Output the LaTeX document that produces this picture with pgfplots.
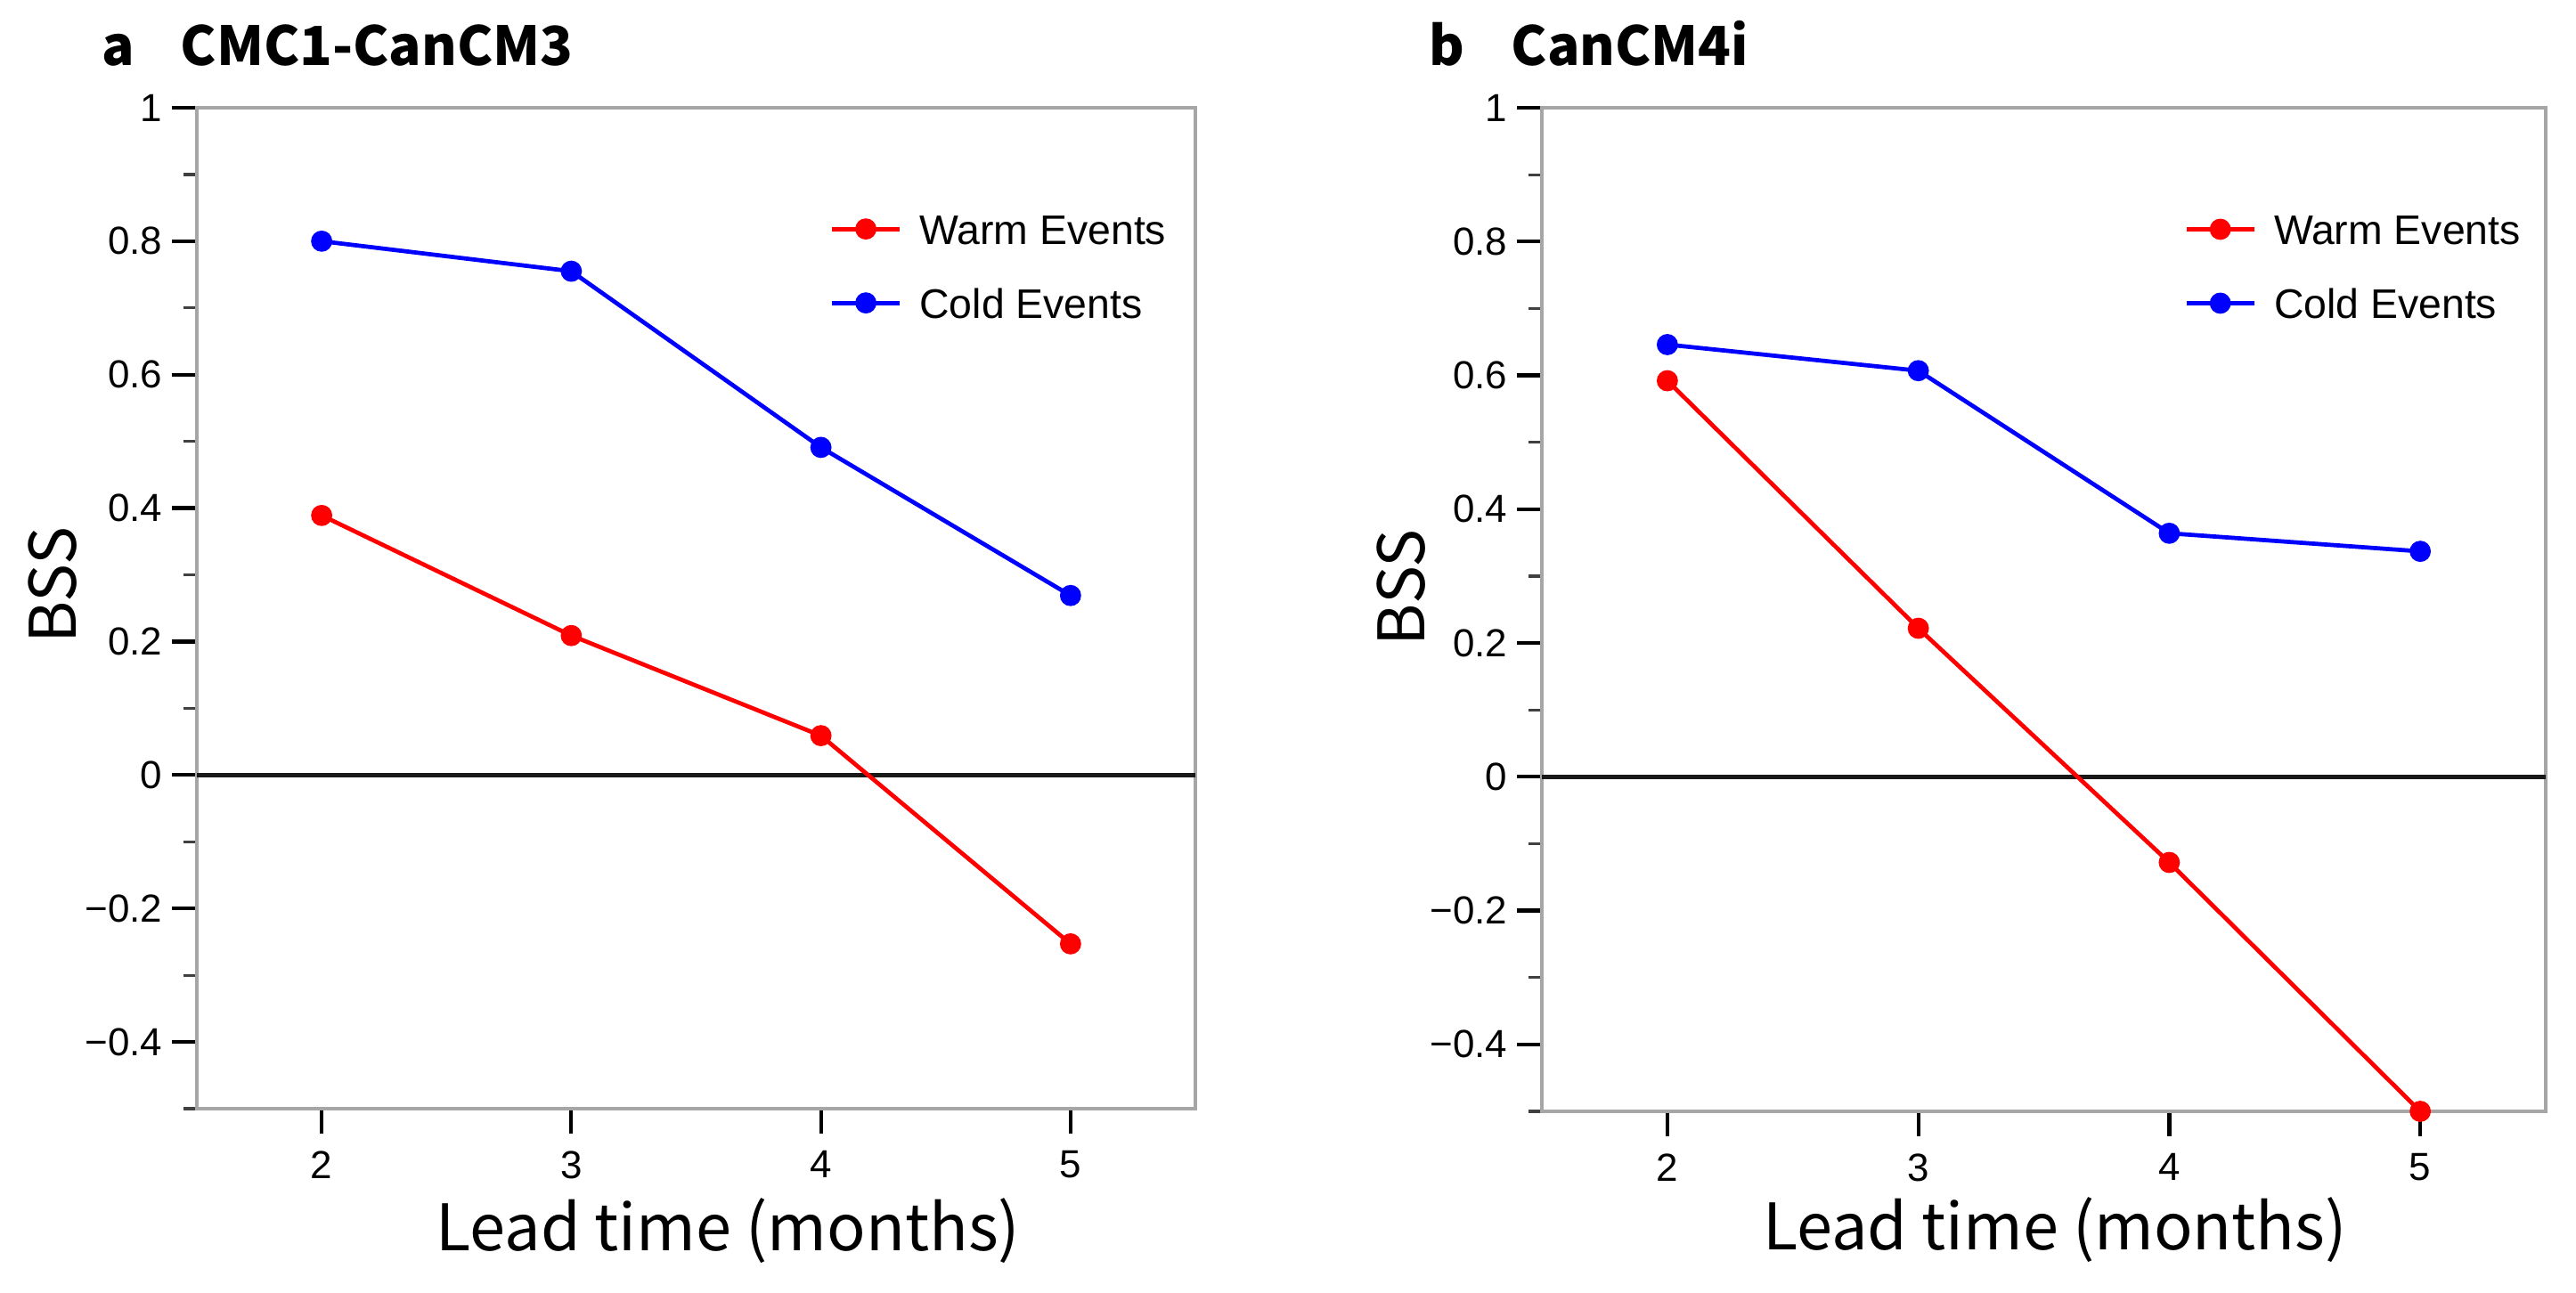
\documentclass[border=0pt]{standalone}
\usepackage{fontspec}
\setmainfont{Liberation Sans}
\newfontfamily\cjk{Noto Sans CJK SC}
\usepackage{pgfplots}
\pgfplotsset{compat=1.18}

\definecolor{warm}{RGB}{255,0,0}
\definecolor{cold}{RGB}{0,0,255}

\pgfplotsset{
  bsspanel/.style={
    scale only axis, clip=false,
    anchor=south west,
    xmin=1.5, xmax=5.5, ymin=-0.5, ymax=1,
    xtick={2,3,4,5},
    xticklabels={2,3,4,5},
    ytick={-0.4,-0.2,0,0.2,0.4,0.6,0.8,1},
    yticklabels={−0.4,−0.2,0,0.2,0.4,0.6,0.8,1},
    minor ytick={-0.5,-0.3,-0.1,0.1,0.3,0.5,0.7,0.9},
    xtick pos=bottom, ytick pos=left, tick align=outside,
    major tick length=0.28cm, minor tick length=0.15cm,
    major tick style={black, line width=1.2pt},
    minor tick style={black!75, line width=0.9pt},
    axis line style={gray!70, line width=1.1pt},
    tick label style={font=\fontsize{12.5}{14}\selectfont},
    xticklabel style={inner sep=0pt, anchor=north, yshift=-0.19cm},
    yticklabel style={inner sep=0pt, anchor=east, xshift=-0.1cm},
    label style={font=\cjk\fontsize{20.5}{24}\selectfont},
    xlabel={Lead time (months)},
    ylabel={BSS},
    legend cell align=left,
    legend style={anchor=north west, draw=none, fill=none,
      inner sep=0pt, outer sep=0pt, row sep=0.49cm,
      font=\fontsize{13.2}{15}\selectfont,
      nodes={inner sep=0pt, text height=0.34cm, text depth=0pt}},
    /tikz/every odd column/.append style={column sep=0.2cm},
    legend image code/.code={
      \draw[mark repeat=2,mark phase=2,##1]
        plot coordinates {(0cm,0cm) (0.38cm,0cm) (0.76cm,0cm)};
    },
  },
  warmline/.style={color=warm, line width=1.35pt, mark=*, mark size=2.7pt,
    mark options={solid, fill=warm, draw=warm}},
  coldline/.style={color=cold, line width=1.35pt, mark=*, mark size=2.7pt,
    mark options={solid, fill=cold, draw=cold}},
}

\begin{document}
\begin{tikzpicture}
\useasboundingbox (0,0) rectangle (28.92,14.52);

% panel a
\begin{axis}[
    bsspanel,
    at={(2.21cm,2.07cm)},
    width=11.21cm, height=11.24cm,
    xlabel style={at={(axis description cs:0.532,-0.1423)}, anchor=base},
    ylabel style={at={(axis description cs:-0.1213,0.523)}, anchor=base},
    legend style={at={(0.634,0.894)}},
]
\draw[black!90, line width=1.5pt] (axis cs:1.5,0) -- (axis cs:5.5,0);
\addplot[warmline] coordinates {
    (2,0.389) (3,0.209) (4,0.059) (5,-0.253)
};
\addplot[coldline] coordinates {
    (2,0.800) (3,0.755) (4,0.491) (5,0.269)
};
\legend{Warm Events, Cold Events}
\end{axis}

% panel b
\begin{axis}[
    bsspanel,
    at={(17.31cm,2.04cm)},
    width=11.27cm, height=11.27cm,
    xlabel style={at={(axis description cs:0.511,-0.1384)}, anchor=base},
    ylabel style={at={(axis description cs:-0.117,0.522)}, anchor=base},
    legend style={at={(0.640,0.894)}},
]
\draw[black!90, line width=1.5pt] (axis cs:1.5,0) -- (axis cs:5.5,0);
\addplot[warmline] coordinates {
    (2,0.592) (3,0.222) (4,-0.128) (5,-0.500)
};
\addplot[coldline] coordinates {
    (2,0.646) (3,0.607) (4,0.364) (5,0.337)
};
\legend{Warm Events, Cold Events}
\end{axis}

\node[anchor=base west, inner sep=0pt, font=\cjk\bfseries\fontsize{17.2}{20}\selectfont] at (1.14,13.78) {a};
\node[anchor=base west, inner sep=0pt, font=\cjk\bfseries\fontsize{17.2}{20}\selectfont] at (2.02,13.78) {CMC1-CanCM3};
\node[anchor=base west, inner sep=0pt, font=\cjk\bfseries\fontsize{17.2}{20}\selectfont] at (16.04,13.78) {b};
\node[anchor=base west, inner sep=0pt, font=\cjk\bfseries\fontsize{17.2}{20}\selectfont] at (16.96,13.78) {CanCM4i};
\end{tikzpicture}
\end{document}
